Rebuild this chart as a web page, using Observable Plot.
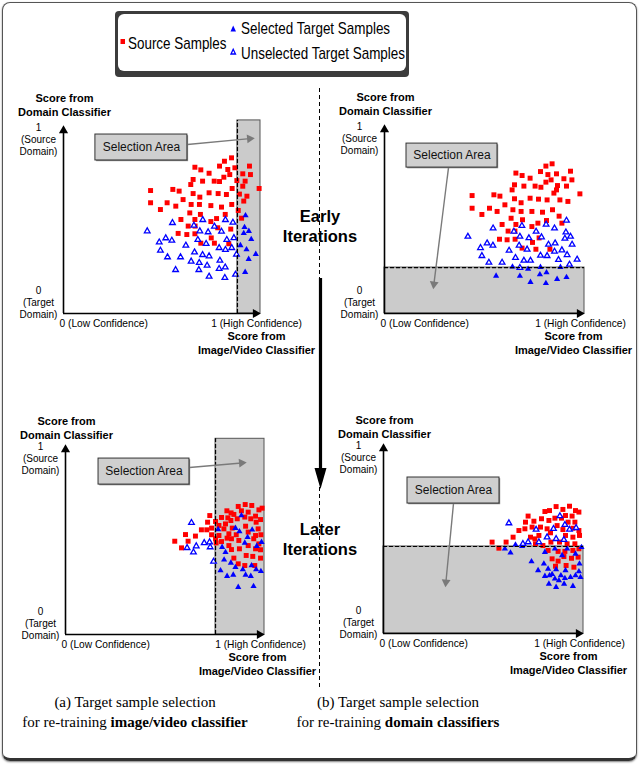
<!DOCTYPE html>
<html><head><meta charset="utf-8">
<script src="https://cdn.jsdelivr.net/npm/d3@7"></script>
<script src="https://cdn.jsdelivr.net/npm/@observablehq/plot@0.6"></script>
<style>
html,body{margin:0;padding:0;background:#fff;}
#fig{position:relative;width:640px;height:765px;font-family:"Liberation Sans",Arial,sans-serif;overflow:hidden;}
#frame{position:absolute;left:2px;top:2px;width:635px;height:759px;border:1.5px solid #555;border-bottom:3px solid #333;border-radius:8px;box-sizing:border-box;box-shadow:0 1px 2px rgba(0,0,0,0.5);}
.panel{position:absolute;width:320px;height:280px;}
.panel svg{overflow:visible;}
#legend{position:absolute;left:115px;top:11px;width:294px;height:66px;box-sizing:border-box;background:#3c3c3c;border-radius:4px;}
#legendInner{position:absolute;left:3px;top:3px;right:3px;bottom:6px;background:#fff;border-radius:6px;}
.lg{position:absolute;font-size:17px;color:#000;white-space:nowrap;line-height:1;transform:scaleX(0.79);transform-origin:0 50%;}
.iter{position:absolute;width:120px;left:260px;text-align:center;font-weight:bold;font-size:16.5px;line-height:20px;color:#000;}
.cap{position:absolute;width:320px;text-align:center;font-family:"Liberation Serif","Times New Roman",serif;font-size:15px;line-height:20px;color:#000;}
#overlay{position:absolute;left:0;top:0;}
</style></head>
<body>
<div id="fig">
  <div id="frame"></div>
  <div id="legend"><div id="legendInner"></div></div>
  <svg id="overlay" width="640" height="765"></svg>
  <div id="pA" class="panel" style="left:0px;top:85px"></div>
  <div id="pB" class="panel" style="left:320px;top:85px"></div>
  <div id="pC" class="panel" style="left:0px;top:405px"></div>
  <div id="pD" class="panel" style="left:320px;top:405px"></div>
  <div class="iter" style="top:206px">Early<br>Iterations</div>
  <div class="iter" style="top:519px">Later<br>Iterations</div>
  <div class="cap" style="left:-25px;top:692px">(a) Target sample selection<br>for re-training <b>image/video classifier</b></div>
  <div class="cap" style="left:238px;top:692px">(b) Target sample selection<br>for re-training <b>domain classifiers</b></div>
</div>
<script>
// ---------- data (x = score from image/video classifier, y = score from domain classifier) ----------
const legendLabels = ["Source Samples", "Selected Target Samples", "Unselected Target Samples"];
const xTickLabels = ["0 (Low Confidence)", "1 (High Confidence)"];
const yTickLabels = ["0\n(Target\nDomain)", "1\n(Source\nDomain)"];
const xTitle = "Score from\nImage/Video Classifier";
const yTitle = "Score from\nDomain Classifier";
const panelCaptions = ["(a) Target sample selection for re-training image/video classifier", "(b) Target sample selection for re-training domain classifiers"];
const iterationLabels = ["Early\nIterations", "Later\nIterations"];

// thresholds of the selection areas
const thresholds = {A: 0.883, B: 0.243, C: 0.754, D: 0.458};

// Panel A: early iterations, image/video classifier selection
const sourceA = [[0.853,0.828],[0.817,0.810],[0.792,0.784],[0.834,0.766],[0.870,0.775],[0.667,0.778],[0.697,0.764],[0.739,0.746],[0.844,0.739],[0.814,0.725],[0.944,0.784],[0.910,0.743],[0.949,0.739],[0.880,0.707],[0.910,0.677],[0.922,0.704],[0.658,0.713],[0.706,0.704],[0.765,0.704],[0.792,0.702],[0.646,0.686],[0.442,0.654],[0.555,0.660],[0.587,0.651],[0.658,0.638],[0.692,0.619],[0.739,0.642],[0.785,0.638],[0.827,0.633],[0.856,0.665],[0.893,0.635],[0.931,0.624],[0.915,0.598],[0.993,0.665],[0.442,0.589],[0.526,0.589],[0.570,0.571],[0.607,0.606],[0.648,0.580],[0.690,0.580],[0.748,0.574],[0.802,0.566],[0.854,0.580],[0.492,0.553],[0.641,0.535],[0.695,0.527],[0.821,0.527],[0.887,0.548],[0.596,0.500],[0.667,0.500],[0.748,0.489],[0.777,0.505],[0.904,0.507],[0.633,0.465],[0.668,0.465],[0.783,0.456],[0.849,0.449],[0.582,0.426],[0.626,0.420],[0.667,0.424],[0.750,0.402],[0.697,0.374],[0.766,0.374],[0.839,0.371]];
const unselectedA = [[0.425,0.438],[0.553,0.482],[0.662,0.468],[0.707,0.498],[0.766,0.463],[0.822,0.498],[0.860,0.484],[0.692,0.438],[0.734,0.433],[0.802,0.436],[0.486,0.379],[0.519,0.401],[0.550,0.388],[0.682,0.392],[0.724,0.371],[0.790,0.349],[0.829,0.392],[0.865,0.402],[0.492,0.335],[0.621,0.362],[0.665,0.326],[0.706,0.312],[0.739,0.305],[0.822,0.339],[0.854,0.349],[0.528,0.300],[0.594,0.300],[0.648,0.277],[0.689,0.270],[0.729,0.255],[0.794,0.282],[0.878,0.314],[0.569,0.232],[0.687,0.232],[0.790,0.238],[0.821,0.246],[0.739,0.197],[0.819,0.190],[0.873,0.207]];
const selectedA = [[0.924,0.521],[0.919,0.459],[0.941,0.438],[0.915,0.427],[0.953,0.395],[0.898,0.362],[0.929,0.340],[0.940,0.289],[0.976,0.316],[0.922,0.220]];

// Panel B: early iterations, domain classifier selection
const sourceB = [[0.838,0.792],[0.807,0.780],[0.780,0.751],[0.657,0.743],[0.688,0.730],[0.728,0.716],[0.817,0.735],[0.860,0.739],[0.833,0.707],[0.807,0.695],[0.930,0.753],[0.897,0.713],[0.937,0.707],[0.865,0.677],[0.910,0.674],[0.860,0.654],[0.847,0.637],[0.650,0.681],[0.697,0.674],[0.753,0.674],[0.782,0.668],[0.638,0.654],[0.438,0.624],[0.547,0.628],[0.577,0.621],[0.650,0.607],[0.683,0.586],[0.728,0.610],[0.770,0.605],[0.813,0.601],[0.877,0.601],[0.917,0.593],[0.977,0.633],[0.438,0.557],[0.525,0.557],[0.563,0.540],[0.602,0.575],[0.642,0.549],[0.683,0.540],[0.737,0.540],[0.790,0.536],[0.840,0.549],[0.873,0.515],[0.487,0.524],[0.633,0.504],[0.690,0.496],[0.810,0.492],[0.887,0.478],[0.588,0.471],[0.657,0.471],[0.737,0.460],[0.767,0.478],[0.618,0.436],[0.652,0.436],[0.773,0.400],[0.575,0.393],[0.613,0.390],[0.653,0.393],[0.740,0.376],[0.688,0.346],[0.757,0.340],[0.827,0.340]];
const unselectedB = [[0.417,0.407],[0.543,0.451],[0.647,0.434],[0.687,0.464],[0.758,0.434],[0.808,0.471],[0.850,0.451],[0.910,0.492],[0.677,0.407],[0.722,0.399],[0.785,0.404],[0.907,0.430],[0.930,0.407],[0.902,0.397],[0.480,0.347],[0.513,0.372],[0.542,0.360],[0.673,0.360],[0.713,0.339],[0.820,0.365],[0.853,0.372],[0.938,0.365],[0.487,0.305],[0.623,0.333],[0.655,0.295],[0.697,0.280],[0.730,0.280],[0.780,0.307],[0.813,0.305],[0.850,0.328],[0.887,0.335],[0.913,0.310],[0.522,0.270],[0.588,0.270],[0.870,0.284],[0.925,0.259],[0.963,0.286],[0.677,0.242]];
const selectedB = [[0.640,0.247],[0.718,0.235],[0.780,0.245],[0.880,0.245],[0.558,0.199],[0.677,0.198],[0.730,0.166],[0.777,0.206],[0.810,0.217],[0.807,0.160],[0.863,0.182],[0.910,0.192]];

// Panel C: later iterations, image/video classifier selection
const sourceC = [[0.725,0.626],[0.714,0.591],[0.683,0.551],[0.710,0.551],[0.734,0.560],[0.754,0.595],[0.603,0.526],[0.653,0.518],[0.549,0.491],[0.616,0.491],[0.583,0.456],[0.734,0.525],[0.754,0.504],[0.784,0.616],[0.811,0.651],[0.832,0.640],[0.868,0.674],[0.903,0.684],[0.936,0.679],[0.972,0.656],[0.816,0.614],[0.846,0.632],[0.884,0.651],[0.918,0.644],[0.955,0.623],[0.988,0.665],[0.771,0.574],[0.804,0.582],[0.831,0.600],[0.863,0.609],[0.901,0.618],[0.931,0.609],[0.958,0.591],[0.980,0.605],[0.796,0.556],[0.838,0.560],[0.905,0.570],[0.968,0.556],[0.771,0.521],[0.821,0.530],[0.858,0.525],[0.918,0.539],[0.955,0.521],[0.982,0.525],[0.784,0.489],[0.834,0.504],[0.871,0.495],[0.946,0.504],[0.972,0.477],[0.834,0.447],[0.874,0.451],[0.918,0.468],[0.955,0.451],[0.980,0.446],[0.846,0.402],[0.908,0.416],[0.941,0.411],[0.980,0.402],[0.868,0.372],[0.901,0.363],[0.951,0.363],[0.821,0.468],[0.757,0.482],[0.812,0.507]];
const unselectedC = [[0.633,0.588],[0.611,0.456],[0.643,0.433],[0.657,0.465],[0.697,0.482],[0.724,0.486],[0.727,0.460],[0.744,0.384]];
const selectedC = [[0.767,0.553],[0.884,0.626],[0.854,0.560],[0.938,0.551],[0.915,0.512],[0.901,0.482],[0.961,0.465],[0.787,0.460],[0.804,0.433],[0.797,0.393],[0.831,0.377],[0.854,0.354],[0.891,0.342],[0.935,0.363],[0.958,0.342],[0.982,0.333],[0.812,0.307],[0.843,0.314],[0.905,0.314],[0.931,0.307],[0.868,0.249],[0.945,0.254],[0.779,0.337],[0.985,0.486],[0.874,0.542]];

// Panel D: later iterations, domain classifier selection
const sourceD = [[0.543,0.481],[0.577,0.449],[0.613,0.481],[0.648,0.507],[0.677,0.542],[0.707,0.551],[0.710,0.586],[0.723,0.618],[0.752,0.591],[0.743,0.560],[0.735,0.507],[0.757,0.498],[0.777,0.516],[0.785,0.560],[0.790,0.604],[0.807,0.642],[0.830,0.647],[0.863,0.668],[0.897,0.653],[0.930,0.670],[0.960,0.647],[0.910,0.621],[0.943,0.618],[0.977,0.639],[0.827,0.595],[0.857,0.607],[0.890,0.607],[0.923,0.586],[0.957,0.586],[0.818,0.551],[0.868,0.568],[0.897,0.547],[0.947,0.554],[0.977,0.542],[0.835,0.530],[0.910,0.516],[0.947,0.507],[0.980,0.516],[0.760,0.472],[0.797,0.463],[0.837,0.481],[0.880,0.481],[0.918,0.472],[0.957,0.472],[0.823,0.437],[0.873,0.432],[0.907,0.432],[0.947,0.437],[0.977,0.446],[0.843,0.393],[0.902,0.405],[0.940,0.396],[0.973,0.402],[0.860,0.354],[0.913,0.358],[0.952,0.349],[0.873,0.381]];
const unselectedD = [[0.627,0.581],[0.763,0.547],[0.850,0.551],[0.882,0.618],[0.907,0.572],[0.930,0.547],[0.963,0.556],[0.818,0.507],[0.863,0.498],[0.902,0.493],[0.723,0.481],[0.697,0.472],[0.777,0.481]];
const selectedD = [[0.607,0.446],[0.635,0.425],[0.660,0.467],[0.693,0.460],[0.807,0.428],[0.740,0.379],[0.773,0.332],[0.802,0.367],[0.823,0.340],[0.843,0.312],[0.863,0.337],[0.887,0.305],[0.910,0.332],[0.977,0.326],[0.980,0.367],[0.807,0.302],[0.830,0.305],[0.857,0.288],[0.877,0.279],[0.907,0.291],[0.935,0.296],[0.960,0.305],[0.985,0.296],[0.827,0.261],[0.863,0.244],[0.903,0.261],[0.947,0.249],[0.893,0.411],[0.960,0.419],[0.857,0.446],[0.990,0.454],[0.918,0.446]];

// ---------- colours / styles ----------
const RED = "#ff0000", BLUE = "#0000ff", GRAY = "#cbcbcb";

// ---------- legend ----------
{
  const li = document.getElementById("legendInner");
  li.innerHTML = `
   <svg width="288" height="57" style="position:absolute;left:0;top:0">
     <rect x="2.5" y="25" width="4.5" height="5" fill="${RED}"/>
     <path d="M112.5,17.5 L115.2,11.5 L118,17.5 Z" fill="${BLUE}"/>
     <path d="M113,40 L115.2,35.3 L117.5,40 Z" fill="#fff" stroke="${BLUE}" stroke-width="1.3"/>
   </svg>
   <div class="lg" style="left:10px;top:21px">${legendLabels[0]}</div>
   <div class="lg" style="left:123px;top:6px">${legendLabels[1]}</div>
   <div class="lg" style="left:123px;top:31px">${legendLabels[2]}</div>`;
}

// ---------- middle separator and iteration arrow ----------
{
  const ov = document.getElementById("overlay");
  ov.innerHTML = `
    <line x1="319.5" y1="88" x2="319.5" y2="690" stroke="#000" stroke-width="1" stroke-dasharray="4,3"/>
    <line x1="320.5" y1="278" x2="320.5" y2="472" stroke="#000" stroke-width="3.2"/>
    <path d="M314.5,468 L326.5,468 L320.5,489 Z" fill="#000"/>`;
}

// ---------- panel builder ----------
function panel(el, cfg) {
  const W = 320, H = 280;
  const iw = W - cfg.mL - cfg.mR, ih = H - cfg.mT - cfg.mB;
  const thr = cfg.thr;
  const area = cfg.vertical
    ? [{x1: thr, x2: 1, y1: 0, y2: cfg.areaTop}]
    : [{x1: 0, x2: 1, y1: 0, y2: thr}];
  const box = [cfg.box];
  const arr = [cfg.arrow];
  const ang = Math.atan2((cfg.arrow.x2 - cfg.arrow.x1) * iw, (cfg.arrow.y2 - cfg.arrow.y1) * ih) * 180 / Math.PI;
  const px = d => d[0], py = d => d[1];
  const txt = {fontFamily: "Liberation Sans, Arial, sans-serif", fill: "#000"};
  const marks = [
    Plot.rect(area, {x1: "x1", x2: "x2", y1: "y1", y2: "y2", fill: GRAY, stroke: "#555", strokeWidth: 1}),
    Plot.dot(cfg.src, {x: px, y: py, symbol: "square", r: 2.8, fill: RED}),
    Plot.dot(cfg.sel, {x: px, y: py, symbol: "triangle", r: 2.3, fill: BLUE}),
    Plot.dot(cfg.uns, {x: px, y: py, symbol: "triangle", r: 2.1, fill: "#fff", stroke: BLUE, strokeWidth: 1.3}),
    cfg.vertical
      ? Plot.ruleX([thr], {y1: 0, y2: cfg.areaTop, stroke: "#000", strokeWidth: 1.2, strokeDasharray: "4,2"})
      : Plot.ruleY([thr], {x1: 0, x2: 1, stroke: "#000", strokeWidth: 1.2, strokeDasharray: "4,2"}),
    // axes
    Plot.ruleY([0], {x1: 0, x2: 0.985, stroke: "#000", strokeWidth: 1.6}),
    Plot.ruleX([0], {y1: 0, y2: 0.985, stroke: "#000", strokeWidth: 1.6}),
    Plot.dot([{x: 0, y: 1}], {x: "x", y: "y", symbol: "triangle", r: 3.4, fill: "#000", dy: 5}),
    Plot.dot([{x: 1, y: 0}], {x: "x", y: "y", symbol: "triangle", r: 3.4, fill: "#000", rotate: 90, dx: -5}),
    // tick labels
    Plot.text([{x: 0, y: 1}], {x: "x", y: "y", text: () => yTickLabels[1], ...txt, fontSize: 10, lineHeight: 1.2, lineAnchor: "top", textAnchor: "middle", dx: -25, dy: -3}),
    Plot.text([{x: 0, y: 0}], {x: "x", y: "y", text: () => yTickLabels[0], ...txt, fontSize: 10, lineHeight: 1.2, lineAnchor: "bottom", textAnchor: "middle", dx: -25, dy: 4}),
    Plot.text([{x: 0, y: 0}], {x: "x", y: "y", text: () => xTickLabels[0], ...txt, fontSize: 10.2, textAnchor: "start", dx: -4, dy: 10}),
    Plot.text([{x: 1, y: 0}], {x: "x", y: "y", text: () => xTickLabels[1], ...txt, fontSize: 10.2, textAnchor: "middle", dx: -4, dy: 10}),
    // axis titles
    Plot.text([{x: 0, y: 1}], {x: "x", y: "y", text: () => yTitle, ...txt, fontSize: 11, fontWeight: "bold", lineHeight: 1.2, lineAnchor: "bottom", textAnchor: "middle", dx: 1, dy: cfg.yTitleDy}),
    Plot.text([{x: 1, y: 0}], {x: "x", y: "y", text: () => xTitle, ...txt, fontSize: 11, fontWeight: "bold", lineHeight: 1.25, lineAnchor: "top", textAnchor: "middle", dx: cfg.xTitleDx, dy: 17}),
    // selection-area callout
    Plot.link(arr, {x1: "x1", y1: "y1", x2: "x2", y2: "y2", stroke: "#7a7a7a", strokeWidth: 1.4}),
    Plot.dot(arr, {x: "x2", y: "y2", symbol: "triangle", r: 3.3, fill: "#7a7a7a", rotate: ang}),
    Plot.rect(box, {x1: "x1", x2: "x2", y1: "y1", y2: "y2", fill: "#8a8a8a", dx: 1.2, dy: 1.2}),
    Plot.rect(box, {x1: "x1", x2: "x2", y1: "y1", y2: "y2", fill: "#cfcfcf", stroke: "#333", strokeWidth: 1}),
    Plot.text(box, {x: d => (d.x1 + d.x2) / 2, y: d => (d.y1 + d.y2) / 2, text: () => "Selection Area", ...txt, fontSize: 12, fill: "#111"})
  ];
  const chart = Plot.plot({
    width: W, height: H,
    marginLeft: cfg.mL, marginRight: cfg.mR, marginTop: cfg.mT, marginBottom: cfg.mB,
    x: {domain: [0, 1], axis: null},
    y: {domain: [0, 1], axis: null},
    style: {background: "transparent", overflow: "visible", fontFamily: "Liberation Sans, Arial, sans-serif"},
    marks
  });
  el.appendChild(chart);
}

panel(document.getElementById("pA"), {
  mL: 63, mR: 60, mT: 40, mB: 52, vertical: true, thr: thresholds.A, areaTop: 1.027,
  src: sourceA, sel: selectedA, uns: unselectedA,
  box: {x1: 0.162, x2: 0.629, y1: 0.814, y2: 0.952},
  arrow: {x1: 0.629, y1: 0.899, x2: 0.945, y2: 0.93},
  yTitleDy: -10, xTitleDx: -4
});
panel(document.getElementById("pB"), {
  mL: 64, mR: 56, mT: 39, mB: 52, vertical: false, thr: thresholds.B,
  src: sourceB, sel: selectedB, uns: unselectedB,
  box: {x1: 0.11, x2: 0.565, y1: 0.772, y2: 0.899},
  arrow: {x1: 0.32, y1: 0.772, x2: 0.247, y2: 0.155},
  yTitleDy: -10, xTitleDx: -11
});
panel(document.getElementById("pC"), {
  mL: 65, mR: 56, mT: 39, mB: 51, vertical: true, thr: thresholds.C, areaTop: 1.03,
  src: sourceC, sel: selectedC, uns: unselectedC,
  box: {x1: 0.166, x2: 0.623, y1: 0.789, y2: 0.926},
  arrow: {x1: 0.623, y1: 0.879, x2: 0.885, y2: 0.903},
  yTitleDy: -6, xTitleDx: -7
});
panel(document.getElementById("pD"), {
  mL: 63, mR: 57, mT: 38, mB: 52, vertical: false, thr: thresholds.D,
  src: sourceD, sel: selectedD, uns: unselectedD,
  box: {x1: 0.12, x2: 0.58, y1: 0.684, y2: 0.821},
  arrow: {x1: 0.35, y1: 0.684, x2: 0.312, y2: 0.27},
  yTitleDy: -6, xTitleDx: -15
});
</script>
</body></html>
